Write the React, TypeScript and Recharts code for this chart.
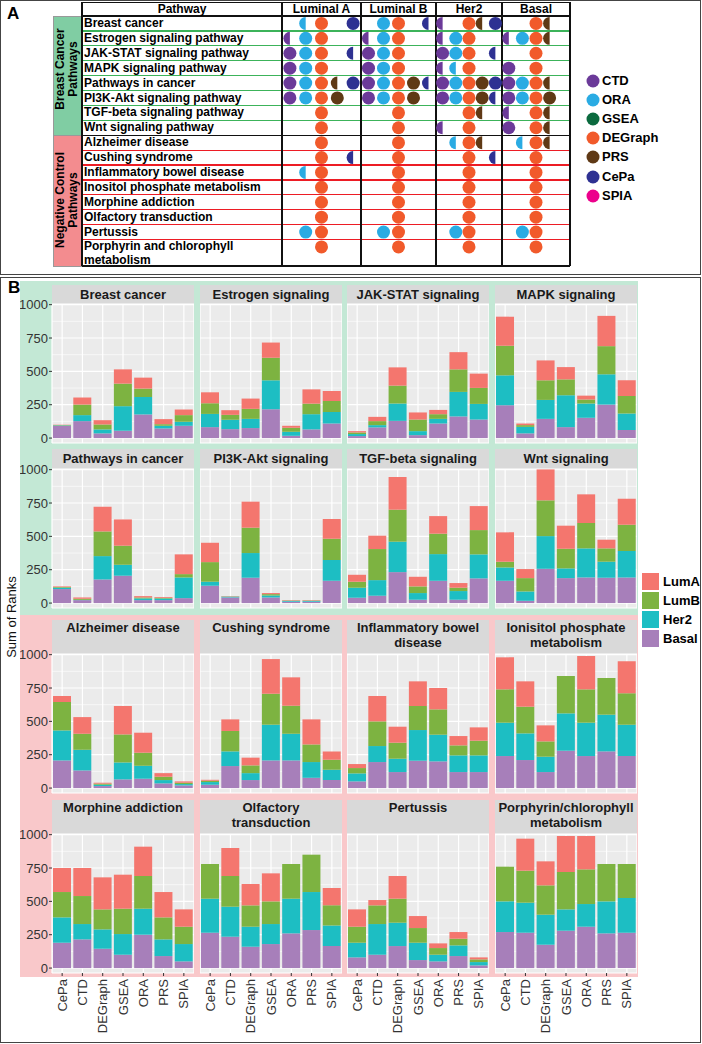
import React from 'react';
import { BarChart, Bar, XAxis, YAxis, CartesianGrid, ScatterChart, Scatter } from 'recharts';

// ---------- panel A: significance table ----------
const subtypes = ['Luminal A', 'Luminal B', 'Her2', 'Basal'];
const glyphMethods = ['CTD', 'ORA', 'DEGraph', 'PRS', 'CePa'];
const legendMethods = ['CTD', 'ORA', 'GSEA', 'DEGraph', 'PRS', 'CePa', 'SPIA'];
const methodColors: Record<string, string> = {
  CTD: '#6b3a99',
  ORA: '#2aabe3',
  GSEA: '#0b6a3e',
  DEGraph: '#f15a2b',
  PRS: '#5f3915',
  CePa: '#2e3192',
  SPIA: '#ec008c',
};

const tablePathways = [
  'Breast cancer',
  'Estrogen signaling pathway',
  'JAK-STAT signaling pathway',
  'MAPK signaling pathway',
  'Pathways in cancer',
  'PI3K-Akt signaling pathway',
  'TGF-beta signaling pathway',
  'Wnt signaling pathway',
  'Alzheimer disease',
  'Cushing syndrome',
  'Inflammatory bowel disease',
  'Inositol phosphate metabolism',
  'Morphine addiction',
  'Olfactory transduction',
  'Pertussis',
  'Porphyrin and chlorophyll metabolism',
];

// 1 = full dot, 0.5 = half dot, 0 = none (columns follow glyphMethods)
const lumAHits = [
  [0, 0.5, 1, 0, 1], [0.5, 1, 1, 0, 0], [1, 1, 1, 0, 0.5], [1, 1, 1, 0, 0],
  [1, 1, 1, 0.5, 1], [1, 1, 1, 1, 0], [0, 0, 1, 0, 0], [0, 0, 1, 0, 0],
  [0, 0, 1, 0, 0], [0, 0, 1, 0, 0.5], [0, 0.5, 1, 0, 0], [0, 0, 1, 0, 0],
  [0, 0, 1, 0, 0], [0, 0, 1, 0, 0], [0, 1, 1, 0, 0], [0, 0, 1, 0, 0],
];
const lumBHits = [
  [0, 1, 1, 0, 0.5], [0.5, 1, 1, 0, 0], [1, 1, 1, 0, 0], [1, 1, 1, 0, 0],
  [1, 1, 1, 1, 0.5], [1, 1, 1, 1, 0], [0, 0, 1, 0, 0], [0, 0, 1, 0, 0],
  [0, 0, 1, 0, 0], [0, 0, 1, 0, 0], [0, 0, 1, 0, 0], [0, 0, 1, 0, 0],
  [0, 0, 1, 0, 0], [0, 0, 1, 0, 0], [0, 1, 1, 0, 0], [0, 0, 1, 0, 0],
];
const her2Hits = [
  [0.5, 0, 1, 0.5, 1], [0.5, 1, 1, 0, 0], [1, 1, 1, 0, 0.5], [0.5, 0.5, 1, 0, 0],
  [1, 1, 1, 1, 1], [1, 1, 1, 1, 0.5], [0, 0, 1, 0.5, 0], [0.5, 0, 1, 0, 0],
  [0, 0.5, 1, 0.5, 0], [0, 0, 1, 0, 0.5], [0, 0, 1, 0, 0], [0, 0, 1, 0, 0],
  [0, 0, 1, 0, 0], [0, 0, 1, 0, 0], [0, 1, 1, 0, 0], [0, 0, 1, 0, 0],
];
const basalHits = [
  [0, 0, 1, 0.5, 0], [0.5, 1, 1, 0.5, 0], [0, 0, 1, 0, 0], [1, 0, 1, 0, 0],
  [1, 1, 1, 0.5, 0], [1, 1, 1, 1, 0], [0.5, 0, 1, 0.5, 0], [1, 0, 1, 0.5, 0],
  [0, 0.5, 1, 0.5, 0], [0, 0, 1, 0, 0], [0, 0, 1, 0, 0], [0, 0, 1, 0, 0],
  [0, 0, 1, 0, 0], [0, 0, 1, 0, 0], [0, 1, 1, 0, 0], [0, 0, 1, 0, 0],
];
const subtypeHits = [lumAHits, lumBHits, her2Hits, basalHits];

// ---------- panel B: sum of ranks ----------
const rankMethods = ['CePa', 'CTD', 'DEGraph', 'GSEA', 'ORA', 'PRS', 'SPIA'];
const facetTitles = [
  'Breast cancer', 'Estrogen signaling', 'JAK-STAT signaling', 'MAPK signaling',
  'Pathways in cancer', 'PI3K-Akt signaling', 'TGF-beta signaling', 'Wnt signaling',
  'Alzheimer disease', 'Cushing syndrome', 'Inflammatory bowel\ndisease', 'Ionisitol phosphate\nmetabolism',
  'Morphine addiction', 'Olfactory\ntransduction', 'Pertussis', 'Porphyrin/chlorophyll\nmetabolism',
];
const subtypeKeys = ['Basal', 'Her2', 'LumB', 'LumA'];
const subtypeColors: Record<string, string> = {
  LumA: '#f4766e',
  LumB: '#7db341',
  Her2: '#1dbec3',
  Basal: '#a77fba',
};

// one row per facet, one value per method (CePa ... SPIA)
const basalRanks = [
  [92, 127, 35, 55, 177, 72, 92],
  [82, 67, 75, 216, 17, 65, 109],
  [15, 80, 129, 22, 109, 162, 139],
  [246, 35, 144, 82, 152, 251, 60],
  [105, 22, 177, 205, 22, 22, 37],
  [130, 42, 190, 42, 10, 10, 167],
  [40, 55, 232, 25, 167, 25, 185],
  [167, 17, 257, 187, 192, 190, 192],
  [207, 132, 15, 65, 70, 35, 20],
  [25, 165, 60, 207, 207, 77, 60],
  [50, 195, 120, 205, 200, 120, 120],
  [240, 210, 120, 280, 240, 275, 240],
  [190, 215, 145, 100, 250, 90, 50],
  [265, 235, 160, 180, 260, 285, 165],
  [80, 100, 165, 60, 50, 90, 20],
  [270, 265, 175, 280, 310, 260, 265],
];
const her2Ranks = [
  [3, 45, 30, 184, 131, 20, 30],
  [99, 70, 69, 217, 30, 114, 87],
  [15, 17, 130, 30, 35, 184, 117],
  [224, 49, 142, 239, 107, 227, 124],
  [10, 2, 175, 82, 13, 12, 155],
  [30, 6, 185, 15, 6, 6, 155],
  [75, 117, 228, 50, 200, 65, 180],
  [100, 70, 245, 73, 218, 120, 198],
  [225, 155, 10, 127, 97, 25, 10],
  [20, 110, 52, 268, 200, 118, 77],
  [60, 120, 100, 230, 200, 125, 125],
  [250, 200, 115, 280, 250, 275, 235],
  [190, 115, 145, 155, 195, 125, 130],
  [255, 225, 150, 150, 260, 285, 155],
  [110, 230, 175, 130, 50, 80, 25],
  [230, 225, 225, 160, 170, 240, 260],
];
const lumBRanks = [
  [3, 79, 37, 169, 63, 12, 50],
  [80, 37, 75, 169, 30, 79, 82],
  [12, 30, 134, 87, 35, 169, 120],
  [222, 13, 147, 119, 30, 211, 132],
  [5, 8, 185, 143, 7, 5, 25],
  [147, 2, 190, 10, 3, 3, 160],
  [45, 233, 240, 50, 153, 25, 182],
  [43, 100, 268, 147, 190, 100, 197],
  [213, 120, 8, 210, 98, 25, 10],
  [10, 153, 58, 232, 210, 132, 75],
  [40, 185, 120, 180, 190, 75, 110],
  [250, 200, 115, 280, 250, 275, 235],
  [190, 210, 150, 190, 245, 165, 130],
  [260, 230, 160, 170, 260, 280, 150],
  [120, 140, 180, 110, 50, 50, 20],
  [260, 240, 220, 280, 260, 280, 255],
];
const lumARanks = [
  [2, 53, 32, 107, 82, 38, 42],
  [82, 35, 77, 114, 15, 107, 75],
  [10, 32, 137, 53, 32, 129, 107],
  [218, 12, 149, 92, 29, 227, 117],
  [5, 10, 185, 197, 10, 6, 148],
  [145, 2, 195, 8, 3, 3, 148],
  [52, 100, 245, 72, 132, 35, 180],
  [220, 68, 232, 173, 215, 65, 195],
  [45, 125, 7, 213, 150, 27, 10],
  [7, 87, 58, 260, 213, 188, 63],
  [30, 190, 120, 185, 160, 70, 100],
  [240, 190, 120, 0, 250, 0, 240],
  [180, 210, 240, 255, 220, 190, 130],
  [0, 210, 160, 210, 0, 0, 130],
  [130, 40, 170, 90, 35, 50, 15],
  [0, 240, 180, 270, 250, 0, 0],
];
const yTicks = [0, 250, 500, 750, 1000];
const yMinorTicks = [125, 375, 625, 875];
const yDomain = [-37, 1005];

// ---------- layout ----------
const font = '"Liberation Sans", Arial, Helvetica, sans-serif';
const rowH = 14.9;
const tableTop = 16;
const colEdges = [282, 361, 436, 502, 570];
const facetX = [52, 200, 347, 495];
const facetW = 142;
const stripTops = [285, 449, 620, 800];
const stripHs = [19, 20, 34, 34];
const plotH = 139;
const pad = 9; // room above/below the plot so tick labels are not clipped

const Glyph = (props: any) => {
  const { cx, cy, payload, color } = props;
  const r = 6.5;
  if (cx == null || cy == null) return null;
  if (payload.frac >= 1) return <circle cx={cx} cy={cy} r={r} fill={color} />;
  return <path d={`M${cx},${cy - r} A${r},${r} 0 0 0 ${cx},${cy + r} Z`} fill={color} />;
};

const SubtypeColumn = ({ idx }: { idx: number }) => {
  const hits = subtypeHits[idx];
  const w = colEdges[idx + 1] - colEdges[idx];
  return (
    <div style={{ position: 'absolute', left: colEdges[idx], top: tableTop }}>
      <ScatterChart width={w} height={rowH * tablePathways.length} margin={{ top: 0, right: 0, bottom: 0, left: 0 }}>
        <XAxis type="number" dataKey="slot" domain={[-0.5, glyphMethods.length - 0.5]} hide />
        <YAxis type="number" dataKey="row" domain={[-0.5, tablePathways.length - 0.5]} reversed hide />
        {glyphMethods.map((m, s) => {
          const pts = hits
            .map((h, r) => ({ slot: s, row: r, frac: h[s] }))
            .filter((p) => p.frac > 0);
          return (
            <Scatter
              key={m}
              data={pts}
              isAnimationActive={false}
              shape={(p: any) => <Glyph {...p} color={methodColors[m]} />}
            />
          );
        })}
      </ScatterChart>
    </div>
  );
};

const MethodTick = (props: any) => {
  const { x, y, payload } = props;
  return (
    <text
      transform={`translate(${x},${y + 1}) rotate(-90)`}
      textAnchor="end"
      dominantBaseline="central"
      fontSize={13}
      fill="#333"
    >
      {payload.value}
    </text>
  );
};

// minor gridlines: use the axis scale when available, else map through the same domain
const minorLines = (args: any) => {
  const sc = args && args.yAxis ? args.yAxis.scale : null;
  if (typeof sc === 'function') return yMinorTicks.map((v) => sc(v));
  if (sc && typeof sc.map === 'function') return yMinorTicks.map((v) => sc.map(v));
  const off = args && args.offset;
  if (!off) return [];
  return yMinorTicks.map((v) => off.top + ((yDomain[1] - v) / (yDomain[1] - yDomain[0])) * off.height);
};

const Facet = ({ index }: { index: number }) => {
  const col = index % 4;
  const row = Math.floor(index / 4);
  const showY = col === 0;
  const showX = row === 3;
  const yW = showY ? 32 : 0;
  const xH = showX ? 66 : 0;
  const data = rankMethods.map((m, i) => ({
    method: m,
    Basal: basalRanks[index][i],
    Her2: her2Ranks[index][i],
    LumB: lumBRanks[index][i],
    LumA: lumARanks[index][i],
  }));
  const plotTop = stripTops[row] + stripHs[row];
  return (
    <>
      <div
        style={{
          position: 'absolute',
          left: facetX[col],
          top: stripTops[row],
          width: facetW,
          height: stripHs[row],
          background: '#d9d9d9',
          fontWeight: 'bold',
          fontSize: 13,
          lineHeight: row < 2 ? `${stripHs[row]}px` : '15px',
          textAlign: 'center',
          whiteSpace: 'pre-line',
          color: '#1a1a1a',
        }}
      >
        {facetTitles[index]}
      </div>
      <div style={{ position: 'absolute', left: facetX[col] - yW, top: plotTop - pad }}>
        <BarChart
          width={facetW + yW}
          height={plotH + xH + pad * 2}
          data={data}
          margin={{ top: pad, right: 0, bottom: pad, left: 0 }}
          barCategoryGap="5%"
        >
          <CartesianGrid
            fill="#ebebeb"
            stroke="#ffffff"
            strokeWidth={0.6}
            vertical={false}
            horizontalCoordinatesGenerator={minorLines}
          />
          <CartesianGrid stroke="#ffffff" strokeWidth={1.2} />
          <XAxis
            dataKey="method"
            hide={!showX}
            height={xH}
            interval={0}
            tickSize={3}
            axisLine={false}
            tickLine={{ stroke: '#333' }}
            tick={<MethodTick />}
          />
          <YAxis
            hide={!showY}
            width={yW}
            domain={yDomain}
            ticks={yTicks}
            interval={0}
            allowDataOverflow
            tickSize={3}
            tickMargin={1}
            axisLine={false}
            tickLine={{ stroke: '#333' }}
            tick={{ fontSize: 13, fill: '#333' }}
          />
          {subtypeKeys.map((k) => (
            <Bar key={k} dataKey={k} stackId="ranks" fill={subtypeColors[k]} isAnimationActive={false} />
          ))}
        </BarChart>
      </div>
    </>
  );
};

const line = (left: number, top: number, width: number, height: number, color: string) => (
  <div style={{ position: 'absolute', left, top, width, height, background: color }} />
);

const App = () => {
  const rowLines = [];
  for (let i = 1; i < tablePathways.length; i++) {
    if (i === 8) continue;
    rowLines.push(
      <div key={i}>{line(82, tableTop + i * rowH - 0.6, 488, 1.3, i < 8 ? '#3cb35a' : '#ed1c24')}</div>
    );
  }
  const tableBottom = 266;
  return (
    <div
      style={{
        position: 'absolute',
        left: 0,
        top: 0,
        width: 702,
        height: 1044,
        background: '#fff',
        fontFamily: font,
        color: '#000',
        overflow: 'hidden',
      }}
    >
      {/* panel frames */}
      <div style={{ position: 'absolute', left: 0, top: 0, width: 699, height: 273, border: '1.5px solid #444' }} />
      <div style={{ position: 'absolute', left: 0, top: 277, width: 699, height: 764, border: '1.5px solid #444' }} />

      {/* ---- panel A ---- */}
      <div style={{ position: 'absolute', left: 7, top: 4, fontWeight: 'bold', fontSize: 17 }}>A</div>

      {/* group blocks */}
      <div style={{ position: 'absolute', left: 53, top: tableTop, width: 28, height: 8 * rowH, background: '#80cda3', border: '1px solid #999' }} />
      <div style={{ position: 'absolute', left: 53, top: tableTop + 8 * rowH, width: 28, height: tableBottom - tableTop - 8 * rowH - 1, background: '#f38c8f', border: '1px solid #999' }} />
      <div
        style={{
          position: 'absolute',
          left: 67.5 - 59,
          top: 69 - 14,
          width: 118,
          height: 28,
          transform: 'rotate(-90deg)',
          fontWeight: 'bold',
          fontSize: 12,
          lineHeight: '13px',
          textAlign: 'center',
        }}
      >
        Breast Cancer
        <br />
        Pathways
      </div>
      <div
        style={{
          position: 'absolute',
          left: 67.5 - 66,
          top: 200 - 14,
          width: 132,
          height: 28,
          transform: 'rotate(-90deg)',
          fontWeight: 'bold',
          fontSize: 12,
          lineHeight: '13px',
          textAlign: 'center',
        }}
      >
        Negative Control
        <br />
        Pathways
      </div>

      {/* table grid */}
      {rowLines}
      {line(82, 2, 488, 1.4, '#111')}
      {line(82, tableTop - 0.7, 488, 1.4, '#111')}
      {line(82, tableTop + 8 * rowH - 0.7, 488, 1.4, '#111')}
      {line(82, tableBottom - 0.7, 488, 1.4, '#111')}
      {[82, ...colEdges].map((x) => (
        <div key={x}>{line(x - 0.7, 2, 1.4, tableBottom - 2, '#111')}</div>
      ))}

      {/* header */}
      <div style={{ position: 'absolute', left: 82, top: 2, width: 200, height: 14, lineHeight: '14px', fontWeight: 'bold', fontSize: 12, textAlign: 'center' }}>
        Pathway
      </div>
      {subtypes.map((s, i) => (
        <div
          key={s}
          style={{
            position: 'absolute',
            left: colEdges[i],
            top: 2,
            width: colEdges[i + 1] - colEdges[i],
            height: 14,
            lineHeight: '14px',
            fontWeight: 'bold',
            fontSize: 12,
            textAlign: 'center',
          }}
        >
          {s}
        </div>
      ))}

      {/* pathway names */}
      {tablePathways.map((p, i) => {
        const last = i === tablePathways.length - 1;
        return (
          <div
            key={p}
            style={{
              position: 'absolute',
              left: 84,
              top: tableTop + i * rowH,
              width: 196,
              height: last ? tableBottom - tableTop - i * rowH : rowH,
              display: 'flex',
              alignItems: 'center',
              fontWeight: 'bold',
              fontSize: 12,
              lineHeight: last ? '14px' : `${rowH}px`,
            }}
          >
            <span>{p}</span>
          </div>
        );
      })}

      {subtypes.map((s, i) => (
        <SubtypeColumn key={s} idx={i} />
      ))}

      {/* method legend */}
      {legendMethods.map((m, i) => (
        <div key={m} style={{ position: 'absolute', left: 586, top: 74 + i * 19.1, height: 14, display: 'flex', alignItems: 'center' }}>
          <svg width={14} height={14} style={{ display: 'block' }}>
            <circle cx={7} cy={7} r={6.5} fill={methodColors[m]} />
          </svg>
          <span style={{ marginLeft: 2, fontWeight: 'bold', fontSize: 13, lineHeight: '14px' }}>{m}</span>
        </div>
      ))}

      {/* ---- panel B ---- */}
      <div style={{ position: 'absolute', left: 20, top: 281, width: 618, height: 334, background: '#c3e8d5' }} />
      <div style={{ position: 'absolute', left: 20, top: 615, width: 618, height: 362, background: '#f9c8ca' }} />
      <div style={{ position: 'absolute', left: 8, top: 278, fontWeight: 'bold', fontSize: 17 }}>B</div>
      <div
        style={{
          position: 'absolute',
          left: 12 - 50,
          top: 617 - 8,
          width: 100,
          height: 16,
          lineHeight: '16px',
          fontSize: 13,
          textAlign: 'center',
          transform: 'rotate(-90deg)',
          color: '#111',
        }}
      >
        Sum of Ranks
      </div>

      {facetTitles.map((t, i) => (
        <Facet key={t} index={i} />
      ))}

      {/* subtype legend */}
      {[...subtypeKeys].reverse().map((k, i) => (
        <div key={k} style={{ position: 'absolute', left: 642, top: 573 + i * 19, height: 17, display: 'flex', alignItems: 'center' }}>
          <div style={{ width: 17, height: 17, background: subtypeColors[k] }} />
          <span style={{ marginLeft: 4, fontWeight: 'bold', fontSize: 13 }}>{k}</span>
        </div>
      ))}
    </div>
  );
};

export default App;
